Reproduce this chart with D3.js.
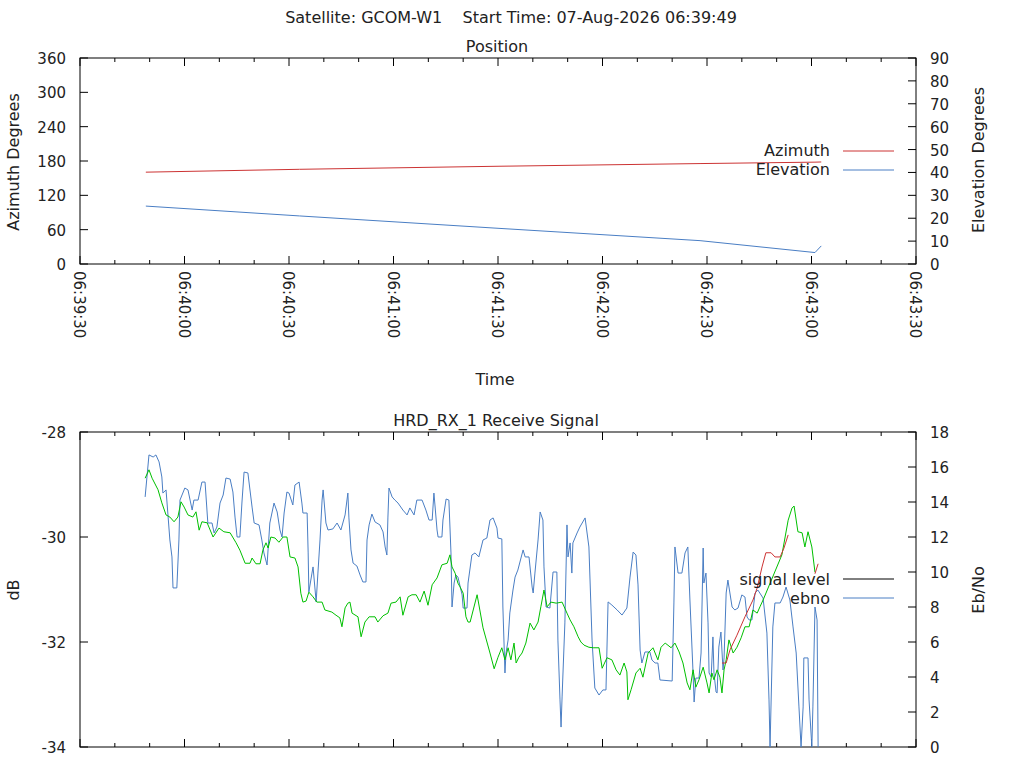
<!DOCTYPE html>
<html><head><meta charset="utf-8">
<script src="https://cdn.jsdelivr.net/npm/d3@7"></script>
<style>body{margin:0;background:#fff}svg{font-family:"DejaVu Sans",sans-serif;font-size:16px}</style>
</head><body><svg id="c" width="1024" height="768"></svg>
<script>
// seconds after 06:39:30
const posTime = [18.9, 63, 120, 178, 211, 212.8];
const azimuth = [160.5, 165.5, 170.8, 175.5, 178, 178.3];
const elevation = [25.3, 21.0, 15.6, 10.2, 5.0, 7.9];

const sigT = [18.7,19.8,20.7,22.4,23.5,24.7,25.8,27.0,28.1,29.0,29.9,31.0,32.4,33.3,34.2,35.0,36.5,38.2,39.9,41.3,43.1,44.8,45.9,47.4,48.8,49.4,50.5,51.7,52.5,53.4,54.0,54.8,56.0,57.1,58.3,59.4,60.3,61.7,62.6,63.4,64.0,64.9,65.7,66.9,68.0,69.5,70.3,72.3,73.5,74.6,75.2,76.1,76.9,77.5,78.1,79.8,80.7,81.8,83.0,84.7,85.5,87.0,88.4,89.3,90.7,91.9,92.7,94.2,95.3,96.5,97.6,98.8,99.9,101.1,102.5,103.9,105.4,106.2,106.8,107.7,108.5,109.1,110.0,110.8,111.4,112.0,114.0,115.7,117.7,118.9,120.0,121.1,122.0,122.9,123.7,124.6,125.2,126.0,126.9,128.0,129.2,130.3,131.5,132.3,133.2,134.1,135.2,136.7,138.4,139.8,140.7,141.8,143.0,143.8,144.7,146.1,147.3,149.0,149.9,151.3,152.7,153.9,155.0,156.2,157.0,157.3,158.2,159.6,160.8,161.6,163.1,164.5,165.9,166.8,168.0,169.7,170.8,172.0,173.1,174.3,175.1,176.0,176.8,177.7,178.9,180.0,180.6,181.4,182.0,182.9,183.7,184.3,184.9,185.5,186.3,187.5,188.6,189.8,190.9,192.1,193.2,194.4,195.2,196.1,201.5,203.3,204.4,205.0,206.1,207.3,208.1,209.0,210.1,211.0];
const sigLevel = [-28.88,-28.72,-28.88,-29.10,-29.35,-29.58,-29.62,-29.71,-29.62,-29.33,-29.43,-29.58,-29.62,-29.52,-29.87,-29.71,-29.73,-30.00,-29.83,-29.90,-29.92,-30.11,-30.25,-30.50,-30.50,-30.40,-30.51,-30.51,-30.25,-30.11,-30.21,-30.00,-30.02,-30.10,-30.00,-30.00,-30.38,-30.40,-30.57,-31.07,-31.24,-31.22,-31.05,-31.14,-31.24,-31.24,-31.39,-31.43,-31.49,-31.54,-31.71,-31.35,-31.26,-31.24,-31.45,-31.52,-31.90,-31.62,-31.52,-31.52,-31.62,-31.50,-31.45,-31.26,-31.24,-31.14,-31.49,-31.14,-31.10,-31.10,-31.24,-31.03,-31.30,-30.91,-30.78,-30.53,-30.50,-30.34,-30.57,-30.69,-30.88,-30.95,-31.07,-31.52,-31.62,-31.62,-31.10,-31.73,-32.21,-32.51,-32.29,-32.11,-32.34,-32.11,-32.34,-32.02,-32.40,-32.29,-32.21,-32.02,-31.64,-31.77,-31.62,-31.33,-31.01,-31.33,-31.24,-31.26,-31.24,-31.45,-31.58,-31.71,-31.90,-32.00,-32.06,-32.10,-32.11,-32.11,-32.50,-32.30,-32.34,-32.53,-32.63,-32.40,-32.57,-33.10,-32.91,-32.59,-32.50,-32.67,-32.21,-32.11,-32.34,-32.10,-32.02,-32.11,-32.02,-32.19,-32.40,-32.78,-32.91,-32.53,-32.86,-32.72,-32.48,-32.78,-32.97,-32.59,-32.72,-32.53,-32.67,-32.97,-32.53,-32.34,-31.96,-32.21,-32.10,-31.92,-31.71,-31.71,-31.39,-31.45,-31.33,-31.20,-30.34,-29.68,-29.45,-29.41,-29.90,-29.92,-30.19,-29.90,-30.19,-30.67];
const sigAltT = [184.3,185.5,186.6,188.6,190.9,193.2,194.4,195.8,196.9,198.4,199.5,201.0,202.1,203.3];
const sigAlt = [-32.40,-32.40,-32.15,-31.87,-31.52,-31.20,-30.97,-30.57,-30.30,-30.30,-30.38,-30.38,-30.21,-29.96];
const sigTailT = [211.0,211.9];
const sigTail = [-30.70,-30.51];

const ebT = [18.7,19.8,21.0,21.8,22.7,23.5,23.8,24.7,25.3,25.8,26.4,26.7,27.8,28.4,28.7,30.1,31.0,32.2,32.7,33.9,35.0,35.9,36.7,37.9,38.5,39.3,40.2,41.1,41.9,43.1,43.9,44.5,45.1,45.9,46.5,47.1,48.2,49.4,50.0,51.4,52.2,52.8,53.7,54.5,55.7,56.6,57.4,58.0,58.6,59.4,60.0,61.1,61.7,62.9,63.7,64.0,65.2,65.5,65.7,66.6,66.9,67.8,68.3,68.9,69.5,69.8,70.6,71.2,72.6,73.8,74.9,76.1,76.9,77.2,77.8,78.4,79.5,80.4,81.2,82.1,82.4,83.0,83.8,84.7,86.1,87.0,87.6,88.1,88.4,88.7,89.6,90.4,91.3,92.7,93.9,94.7,95.9,96.7,98.2,99.3,100.2,101.1,101.6,101.9,102.5,102.8,103.9,104.2,105.1,105.9,106.5,106.8,107.4,107.9,108.5,109.7,110.0,111.1,111.4,112.5,113.4,114.5,115.7,116.8,117.7,118.6,119.7,120.0,121.1,121.4,122.0,122.3,122.9,123.4,124.3,124.9,125.7,127.2,127.8,128.9,129.8,130.1,130.6,131.5,132.1,132.9,133.2,133.8,134.9,135.8,136.9,137.2,137.8,138.1,138.4,139.2,139.8,140.1,140.7,141.2,141.5,142.7,143.5,145.0,146.1,147.0,147.8,149.0,150.1,151.0,151.6,152.7,154.2,155.6,157.0,157.9,158.8,159.6,160.2,160.8,161.3,162.2,163.6,164.2,165.1,165.9,166.5,170.0,170.5,170.8,171.7,172.8,173.7,174.5,175.1,176.0,176.3,176.8,177.7,178.3,178.9,179.1,179.7,180.3,180.6,181.2,181.7,182.0,182.6,182.9,183.4,184.0,184.6,184.9,185.5,186.0,187.2,188.0,188.9,190.0,190.9,191.5,192.1,192.9,193.8,194.6,196.1,197.2,197.8,198.1,198.9,199.5,201.0,201.8,202.7,203.8,204.7,205.6,206.4,207.0,207.6,207.8,209.0,209.3,210.1,210.4,211.0,211.6,211.9];
const ebno = [14.29,16.69,16.57,16.69,16.29,15.43,14.51,14.69,13.14,11.83,10.86,9.09,9.09,11.83,14.11,14.80,14.69,13.54,14.11,14.11,15.14,15.14,12.80,12.80,12.23,12.57,13.94,14.40,15.37,15.31,14.57,13.14,12.00,12.00,14.00,15.71,15.66,13.71,12.80,12.69,11.83,11.09,10.40,12.80,13.94,13.43,12.40,12.00,13.37,14.57,14.51,13.83,14.97,15.14,13.94,13.37,13.37,11.09,8.86,9.94,10.29,8.29,9.94,11.83,14.11,14.69,12.80,12.40,12.46,12.80,12.40,13.26,14.51,13.09,11.26,10.51,10.34,9.83,9.43,9.43,11.83,12.69,13.31,12.86,12.69,12.29,11.43,10.97,13.14,14.80,14.29,14.11,13.94,13.54,13.26,13.66,13.26,14.11,14.11,13.54,12.97,12.97,14.51,13.83,12.40,12.00,12.00,12.97,14.17,14.11,11.09,8.00,9.37,9.83,9.71,8.69,7.94,7.94,9.37,10.97,11.09,10.86,11.83,11.94,12.97,13.09,12.51,11.94,11.89,8.00,4.23,5.37,6.11,7.66,8.97,9.71,10.11,11.26,10.86,10.86,9.14,8.80,9.94,11.83,13.43,12.97,10.29,8.00,7.94,10.00,10.00,6.11,2.69,1.14,2.86,7.09,12.69,10.86,11.66,9.94,11.66,12.23,12.57,13.09,11.43,6.11,3.37,2.97,3.26,3.26,8.29,8.11,7.83,7.54,7.94,9.71,11.14,10.97,9.26,5.54,4.80,5.43,5.43,4.97,4.80,4.80,3.83,3.77,8.23,11.43,9.94,9.94,11.09,11.43,8.40,4.23,2.57,3.94,3.94,5.37,11.37,9.37,9.94,7.09,4.23,4.00,6.29,4.23,3.14,3.09,5.71,6.57,4.40,5.09,8.80,9.54,8.00,7.83,7.94,8.69,8.57,7.43,7.26,7.26,8.80,8.97,8.51,6.51,2.69,0,6.86,8.23,8.23,8.57,9.14,8.40,6.86,5.37,2.29,0,2.29,5.09,5.09,2.69,0,2.29,8.00,7.26,0];

const xTickLabels = ["06:39:30","06:40:00","06:40:30","06:41:00","06:41:30","06:42:00","06:42:30","06:43:00","06:43:30"];
const azTicks = [0,60,120,180,240,300,360];
const elTicks = [0,10,20,30,40,50,60,70,80,90];
const dbTicks = [-34,-32,-30,-28];
const ebTicks = [0,2,4,6,8,10,12,14,16,18];

const RED="#cc3333", BLUE="#4a7ec4", GREEN="#00c000";
const svg = d3.select("#c");
const L=80, R=916;
const x = d3.scaleLinear().domain([0,240]).range([L,R]);

function txt(xp,yp,s,anchor="middle",rot=0,size=16){
  const t=svg.append("text").attr("x",xp).attr("y",yp).attr("text-anchor",anchor).attr("fill","#222").style("font-size",size+"px").text(s);
  if(rot) t.attr("transform",`rotate(${rot},${xp},${yp})`);
  return t;
}
function frame(top,bot,yl,yr,lt,rt){
  svg.append("rect").attr("x",L).attr("y",top).attr("width",R-L).attr("height",bot-top).attr("fill","none").attr("stroke","#000");
  const g=svg.append("g").attr("stroke","#000");
  d3.range(0,241,10).forEach(s=>{
    const len = s%30===0?8:4, xp=x(s);
    g.append("line").attr("x1",xp).attr("x2",xp).attr("y1",bot).attr("y2",bot-len);
    g.append("line").attr("x1",xp).attr("x2",xp).attr("y1",top).attr("y2",top+len);
  });
  lt.forEach(v=>{g.append("line").attr("x1",L).attr("x2",L+8).attr("y1",yl(v)).attr("y2",yl(v));
    txt(L-14,yl(v)+6,String(v),"end",0,15);});
  rt.forEach(v=>{g.append("line").attr("x1",R).attr("x2",R-8).attr("y1",yr(v)).attr("y2",yr(v));
    txt(R+14,yr(v)+6,String(v),"start",0,15);});
}
function path(xs,ys,sx,sy,color){
  svg.append("path").datum(xs.map((t,i)=>[t,ys[i]]))
    .attr("d",d3.line().x(d=>sx(d[0])).y(d=>sy(d[1])))
    .attr("fill","none").attr("stroke",color).attr("stroke-width",1);
}

txt(511,23,"Satellite: GCOM-W1    Start Time: 07-Aug-2026 06:39:49").style("white-space","pre");

// Top chart
const T1=58,B1=264;
const yAz=d3.scaleLinear().domain([0,360]).range([B1,T1]);
const yEl=d3.scaleLinear().domain([0,90]).range([B1,T1]);
txt(497,52,"Position");
frame(T1,B1,yAz,yEl,azTicks,elTicks);
xTickLabels.forEach((s,i)=>txt(x(i*30)-6,271,s,"start",90,15));
txt(19,162,"Azimuth Degrees","middle",-90);
txt(984,160,"Elevation Degrees","middle",-90);
txt(495,385,"Time");
path(posTime,azimuth,x,yAz,RED);
path(posTime,elevation,x,yEl,BLUE);
txt(830,156,"Azimuth","end");
svg.append("line").attr("x1",843).attr("x2",894).attr("y1",151).attr("y2",151).attr("stroke",RED);
txt(830,175,"Elevation","end");
svg.append("line").attr("x1",843).attr("x2",894).attr("y1",170).attr("y2",170).attr("stroke",BLUE);

// Bottom chart
const T2=432,B2=747;
const yDb=d3.scaleLinear().domain([-34,-28]).range([B2,T2]);
const yEb=d3.scaleLinear().domain([0,18]).range([B2,T2]);
txt(496,426,"HRD_RX_1 Receive Signal");
frame(T2,B2,yDb,yEb,dbTicks,ebTicks);
txt(19,590,"dB","middle",-90);
txt(984,590,"Eb/No","middle",-90);
path(ebT,ebno,x,yEb,BLUE);
path(sigT,sigLevel,x,yDb,GREEN);
path(sigAltT,sigAlt,x,yDb,RED);
path(sigTailT,sigTail,x,yDb,RED);
txt(830,585,"signal level","end");
svg.append("line").attr("x1",843).attr("x2",894).attr("y1",579).attr("y2",579).attr("stroke","#000");
txt(830,604,"ebno","end");
svg.append("line").attr("x1",843).attr("x2",894).attr("y1",598).attr("y2",598).attr("stroke",BLUE);
</script></body></html>
